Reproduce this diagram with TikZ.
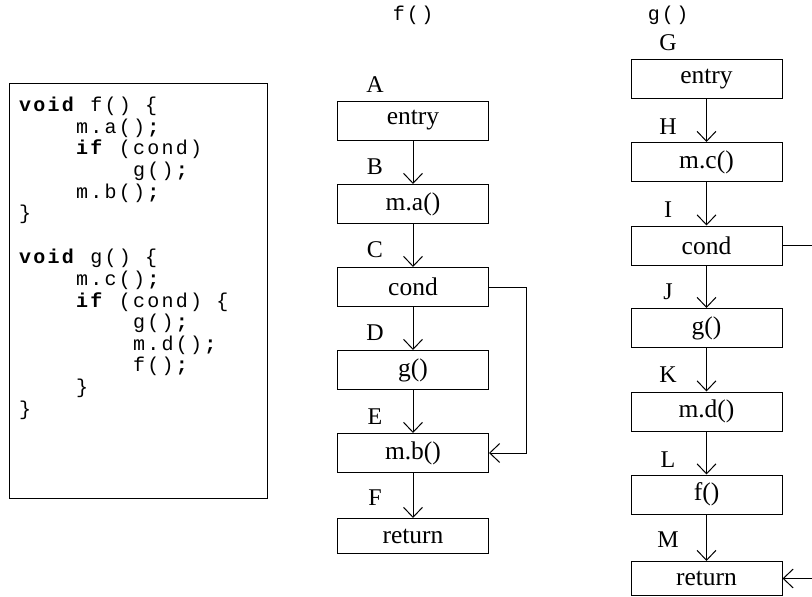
\documentclass[tikz,border=0pt]{standalone}
\usepackage{fontspec}
\setmainfont{Liberation Serif}
\setmonofont{Liberation Mono}
\newfontfamily\codefont[LetterSpace=11.25]{Liberation Mono}
\newcommand\csp{\hspace*{14.25pt}}
\usetikzlibrary{arrows.meta}
\begin{document}
\begin{tikzpicture}[x=1pt,y=-1pt,
  blk/.style={draw, line width=1pt, minimum width=151pt, minimum height=39pt, inner sep=0pt, font=\fontsize{25.5}{25.5}\selectfont},
  lbl/.style={font=\fontsize{24}{24}\selectfont, inner sep=0pt},
  flow/.style={draw, line width=1pt, -{Straight Barb[length=10pt,width=19pt,line width=1pt]}},
  ttl/.style={font=\codefont\fontsize{20}{20}\selectfont, inner sep=0pt}]
\clip (0,0) rectangle (812,597);
% code box
\node[draw, line width=1pt, minimum width=258pt, minimum height=415pt, anchor=north west, inner sep=0pt] (codebox) at (9,83) {};
\node[anchor=north west, inner sep=0pt, align=left,
  font={\codefont\fontsize{20}{21.6}\selectfont\lineskiplimit=-50pt}] (code) at (19,97) {%
\textbf{void}\csp f()\csp\{\\
\csp\csp\csp\csp m.a()\textbf{;}\\
\csp\csp\csp\csp\textbf{if}\csp(cond)\\
\csp\csp\csp\csp\csp\csp\csp\csp g()\textbf{;}\\
\csp\csp\csp\csp m.b()\textbf{;}\\
\}\\[22.6pt]
\textbf{void}\csp g()\csp\{\\
\csp\csp\csp\csp m.c()\textbf{;}\\
\csp\csp\csp\csp\textbf{if}\csp(cond)\csp\{\\
\csp\csp\csp\csp\csp\csp\csp\csp g()\textbf{;}\\
\csp\csp\csp\csp\csp\csp\csp\csp m.d()\textbf{;}\\
\csp\csp\csp\csp\csp\csp\csp\csp f()\textbf{;}\\
\csp\csp\csp\csp\}\\
\}};
% titles
\node[ttl] (tf) at (413,15) {f()};
\node[ttl] (tg) at (668,15) {g()};
% f() column
\node[blk] (fa) at (413,120.5) {entry};
\node[blk] (fb) at (413,204) {m.a()};
\node[blk] (fc) at (413,287) {cond};
\node[blk] (fd) at (413,370) {g()};
\node[blk] (fe) at (413,453) {m.b()};
\node[blk, minimum height=35pt] (ff) at (413,536) {return};
\node[lbl] (lA) at (375,85) {A};
\node[lbl] (lB) at (375,167) {B};
\node[lbl] (lC) at (375,250) {C};
\node[lbl] (lD) at (375,333) {D};
\node[lbl] (lE) at (375,417) {E};
\node[lbl] (lF) at (375,498) {F};
\draw[flow] (fa.south) -- (fb.north);
\draw[flow] (fb.south) -- (fc.north);
\draw[flow] (fc.south) -- (fd.north);
\draw[flow] (fd.south) -- (fe.north);
\draw[flow] (fe.south) -- (ff.north);
\coordinate (floop) at (526,287);
\draw[flow] (fc.east) -- (floop) |- (fe.east);
% g() column
\node[blk] (ga) at (706.5,79) {entry};
\node[blk] (gb) at (706.5,162) {m.c()};
\node[blk] (gc) at (706.5,245.5) {cond};
\node[blk] (gd) at (706.5,328) {g()};
\node[blk] (ge) at (706.5,411.5) {m.d()};
\node[blk] (gf) at (706.5,494.5) {f()};
\node[blk, minimum height=34pt] (gg) at (706.5,578.5) {return};
\node[lbl] (lG) at (668,43) {G};
\node[lbl] (lH) at (668,127) {H};
\node[lbl] (lI) at (668,210) {I};
\node[lbl] (lJ) at (668,292) {J};
\node[lbl] (lK) at (668,375) {K};
\node[lbl] (lL) at (668,460) {L};
\node[lbl] (lM) at (668,540) {M};
\draw[flow] (ga.south) -- (gb.north);
\draw[flow] (gb.south) -- (gc.north);
\draw[flow] (gc.south) -- (gd.north);
\draw[flow] (gd.south) -- (ge.north);
\draw[flow] (ge.south) -- (gf.north);
\draw[flow] (gf.south) -- (gg.north);
\coordinate (gloop) at (840,578.5);
\draw[flow] (gc.east) -| (gloop) -- (gg.east);
\end{tikzpicture}
\end{document}
